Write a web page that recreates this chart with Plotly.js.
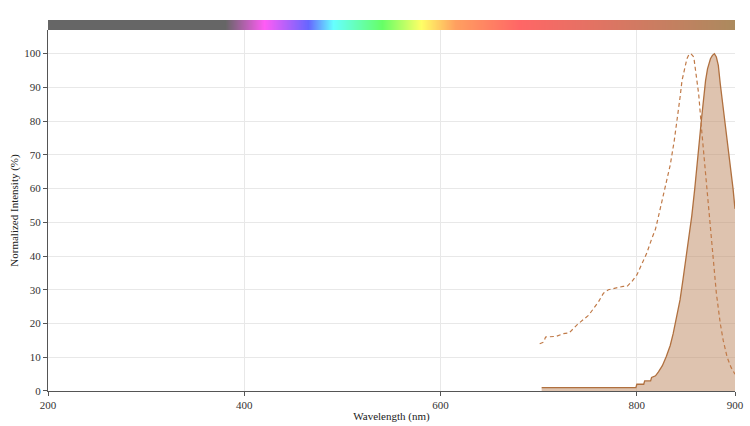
<!DOCTYPE html>
<html>
<head>
<meta charset="utf-8">
<script src="https://cdn.plot.ly/plotly-3.0.1.min.js"></script>
<style>
  html, body { margin: 0; padding: 0; background: #fff; }
  #myDiv { width: 750px; height: 426px; }
</style>
</head>
<body>
<div id="myDiv"></div>
<script>
// excitation spectrum (dashed)
var exWavelength = [701, 705, 707, 718, 725, 731, 739, 745, 751, 756, 761, 766, 771, 778, 786, 790, 795, 800, 805, 810, 815, 819, 823, 827, 831, 834, 838, 841, 844, 846, 849, 851, 853, 855, 858, 860, 863, 866, 869, 872, 875, 878, 881, 885, 888, 892, 896, 900];
var exIntensity  = [14, 14.5, 16, 16.2, 17, 17.2, 19.6, 21, 22.5, 24.5, 26.5, 29, 30, 30.5, 31, 31, 32.5, 34.4, 37.5, 40.8, 45, 48, 53, 58, 63, 67, 74, 80, 87, 92, 96.5, 98.5, 99.7, 100, 99, 95, 88, 77.4, 68, 58, 47, 38, 29, 20, 15, 10, 7, 5];

// emission spectrum (filled)
var emWavelength = [703, 799, 800, 807, 808, 814, 815, 819, 822, 826, 830, 834, 837, 840, 844, 847, 851, 854, 856, 859, 861, 864, 866, 868, 870, 872, 875, 877, 879, 881, 883, 885, 888, 891, 895, 898, 900];
var emIntensity  = [1, 1, 2, 2, 3, 3, 4, 4.5, 5.7, 7.5, 10.2, 13.5, 17, 21.5, 27, 33, 41, 47, 52, 60, 67, 75, 81, 87, 92, 95.5, 98.5, 99.5, 100, 99, 96.5, 91, 84, 77, 67.5, 60, 54];

// colour strip across the top
var spectrumNm     = [200, 380, 420, 465, 490, 540, 580, 615, 680, 900];
var spectrumColors = ['#666666', '#666666', '#ff5cf5', '#6666ff', '#66ffff', '#66ff66', '#ffff66', '#ffa060', '#ff6666', '#ab8a5e'];

var xTicks = [200, 400, 600, 800, 900];
var yTicks = [0, 10, 20, 30, 40, 50, 60, 70, 80, 90, 100];

var serif = 'Liberation Serif, Times New Roman, serif';

var scale = spectrumNm.map(function (nm, i) {
  return [(nm - 200) / 700, spectrumColors[i]];
});

var traces = [
  {
    type: 'heatmap',
    x: spectrumNm,
    y: [0, 1],
    z: [spectrumNm, spectrumNm],
    zmin: 200, zmax: 900,
    colorscale: scale,
    zsmooth: 'best',
    showscale: false,
    hoverinfo: 'skip',
    xaxis: 'x', yaxis: 'y2'
  },
  {
    type: 'scatter', mode: 'lines',
    x: emWavelength, y: emIntensity,
    fill: 'tozeroy',
    fillcolor: 'rgba(190,135,95,0.5)',
    line: { color: '#b0703f', width: 1.3 },
    hoverinfo: 'x+y'
  },
  {
    type: 'scatter', mode: 'lines',
    x: exWavelength, y: exIntensity,
    line: { color: '#c07a48', width: 1.2, dash: '4px,3px' },
    hoverinfo: 'x+y'
  }
];

var layout = {
  width: 750, height: 426,
  margin: { l: 48, r: 15, t: 20, b: 35 },
  paper_bgcolor: '#fff', plot_bgcolor: '#fff',
  showlegend: false,
  font: { family: serif, size: 11, color: '#333' },
  xaxis: {
    range: [200, 900],
    tickvals: xTicks,
    ticks: 'outside', ticklen: 4, tickcolor: '#555',
    showline: true, linecolor: '#555', linewidth: 1,
    showgrid: true, gridcolor: '#e8e8e8',
    zeroline: false,
    tickfont: { family: serif, size: 11, color: '#333' },
    title: { text: 'Wavelength (nm)', font: { family: serif, size: 11, color: '#222' }, standoff: 2 }
  },
  yaxis: {
    domain: [0, 0.973],
    range: [0, 107],
    tickvals: yTicks,
    ticks: 'outside', ticklen: 4, tickcolor: '#555',
    showline: true, linecolor: '#555', linewidth: 1,
    showgrid: true, gridcolor: '#e8e8e8',
    zeroline: false,
    tickfont: { family: serif, size: 11, color: '#333' },
    title: { text: 'Normalized Intensity (%)', font: { family: serif, size: 11, color: '#222' }, standoff: 3 }
  },
  yaxis2: {
    domain: [0.973, 1],
    range: [-0.5, 1.5],
    showticklabels: false, showgrid: false, zeroline: false, showline: false, ticks: ''
  }
};

Plotly.newPlot('myDiv', traces, layout, { displayModeBar: false, staticPlot: true });
</script>
</body>
</html>
